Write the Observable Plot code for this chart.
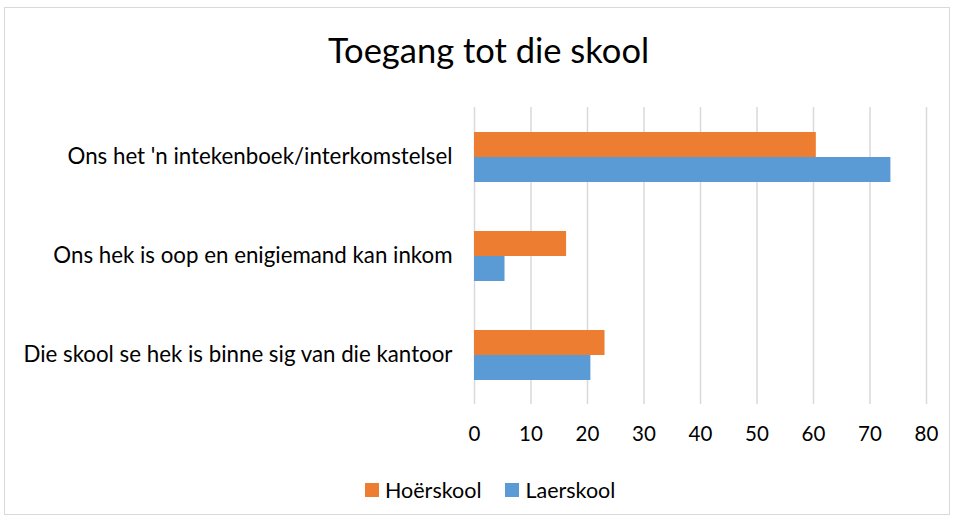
<!DOCTYPE html>
<html>
<head>
<meta charset="utf-8">
<script src="https://cdn.jsdelivr.net/npm/d3@7"></script>
<script src="https://cdn.jsdelivr.net/npm/@observablehq/plot@0.6"></script>
<style>
  html, body { margin: 0; padding: 0; background: #fff; }
  body { width: 957px; height: 520px; position: relative; overflow: hidden; font-family: Lato, "Open Sans", sans-serif; }
  #frame { position: absolute; left: 4px; top: 7px; width: 946px; height: 508px; border: 1px solid #d9d9d9; box-sizing: border-box; }
  #title { position: absolute; left: 0; width: 977px; top: 28px; text-align: center; font-size: 34.5px; color: #000; line-height: 44px; }
  #chart { position: absolute; left: 0; top: 80px; }
  #legend { position: absolute; top: 476px; left: 365px; display: flex; font-size: 21.5px; color: #000; line-height: 28px; }
  .item { display: flex; align-items: center; margin-right: 24px; }
  .sw { width: 14px; height: 14px; margin-right: 6px; }
</style>
</head>
<body>
<div id="frame"></div>
<div id="title">Toegang tot die skool</div>
<div id="chart"></div>
<div id="legend"></div>
<script>
const categories = [
  "Ons het 'n intekenboek/interkomstelsel",
  "Ons hek is oop en enigiemand kan inkom",
  "Die skool se hek is binne sig van die kantoor"
];
const series = ["Hoërskool", "Laerskool"];
const hoerskool = [60.5, 16.3, 23.1];
const laerskool = [73.7, 5.4, 20.6];
const xTicks = [0, 10, 20, 30, 40, 50, 60, 70, 80];
const colors = ["#ED7D31", "#5B9BD5"];

const data = categories.flatMap((c, i) => [
  {category: c, series: series[0], value: hoerskool[i]},
  {category: c, series: series[1], value: laerskool[i]}
]);

const chart = Plot.plot({
  width: 957,
  height: 380,
  marginLeft: 474,
  marginRight: 31,
  marginTop: 26,
  marginBottom: 55,
  style: {fontFamily: "Lato, sans-serif", color: "#000", background: "transparent"},
  x: {domain: [0, 80], axis: null},
  y: {domain: series, axis: null, paddingInner: 0, paddingOuter: 0.955},
  fy: {domain: categories, padding: 0, axis: null},
  color: {domain: series, range: colors},
  marks: [
    Plot.ruleX(xTicks, {x: d => d, stroke: "#d9d9d9", strokeWidth: 1.5, strokeOpacity: 1}),
    Plot.barX(data, {x: "value", y: "series", fy: "category", fill: "series"}),
    Plot.axisX({ticks: xTicks, tickSize: 0, tickPadding: 22, fontSize: 20.5, label: null, tickFormat: d => d}),
    Plot.axisFy({anchor: "left", tickSize: 0, tickPadding: 22, fontSize: 22.3, label: null})
  ]
});
document.getElementById("chart").appendChild(chart);

const legend = document.getElementById("legend");
series.forEach((s, i) => {
  const item = document.createElement("div");
  item.className = "item";
  const sw = document.createElement("div");
  sw.className = "sw";
  sw.style.background = colors[i];
  const t = document.createElement("span");
  t.textContent = s;
  item.appendChild(sw);
  item.appendChild(t);
  legend.appendChild(item);
});
</script>
</body>
</html>
